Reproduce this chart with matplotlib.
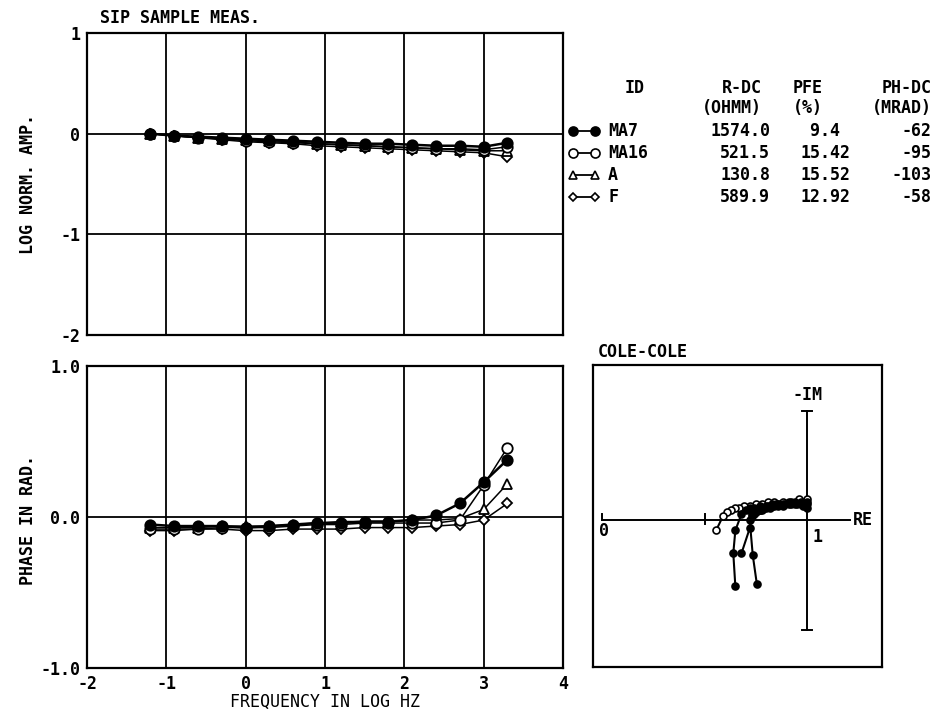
import matplotlib
matplotlib.use("Agg")
import matplotlib.pyplot as plt
from matplotlib.lines import Line2D

# frequency steps (log10 Hz)
logf = [-1.2, -0.9, -0.6, -0.3, 0.0, 0.3, 0.6, 0.9, 1.2, 1.5, 1.8, 2.1, 2.4, 2.7, 3.0, 3.3]

# sample table
ids = ["MA7", "MA16", "A", "F"]
r_dc = ["1574.0", "521.5", "130.8", "589.9"]
pfe = ["9.4", "15.42", "15.52", "12.92"]
ph_dc = ["-62", "-95", "-103", "-58"]

# log normalised amplitude
amp_ma7 = [0.00, -0.02, -0.03, -0.04, -0.05, -0.06, -0.07, -0.08, -0.09, -0.10, -0.10, -0.11, -0.12, -0.12, -0.13, -0.09]
amp_ma16 = [0.00, -0.02, -0.04, -0.05, -0.07, -0.08, -0.09, -0.10, -0.11, -0.12, -0.13, -0.14, -0.15, -0.15, -0.16, -0.13]
amp_a = [0.00, -0.02, -0.04, -0.05, -0.06, -0.07, -0.08, -0.10, -0.11, -0.12, -0.13, -0.14, -0.15, -0.16, -0.17, -0.17]
amp_f = [0.00, -0.02, -0.04, -0.06, -0.08, -0.09, -0.10, -0.12, -0.13, -0.14, -0.15, -0.16, -0.17, -0.18, -0.19, -0.23]

# phase (rad)
ph_ma7 = [-0.05, -0.06, -0.06, -0.06, -0.07, -0.06, -0.05, -0.04, -0.04, -0.03, -0.03, -0.02, 0.01, 0.09, 0.23, 0.38]
ph_ma16 = [-0.08, -0.08, -0.08, -0.07, -0.07, -0.07, -0.06, -0.05, -0.05, -0.04, -0.04, -0.04, -0.04, -0.02, 0.21, 0.46]
ph_a = [-0.07, -0.07, -0.07, -0.06, -0.06, -0.06, -0.05, -0.04, -0.03, -0.03, -0.03, -0.02, -0.02, -0.01, 0.05, 0.22]
ph_f = [-0.09, -0.09, -0.08, -0.08, -0.09, -0.09, -0.08, -0.08, -0.08, -0.07, -0.07, -0.07, -0.06, -0.05, -0.02, 0.09]

# cole-cole (real, -imag), normalised
cc_re_ma7 = [1.00, 0.98, 0.95, 0.92, 0.89, 0.86, 0.83, 0.80, 0.77, 0.74, 0.72, 0.70, 0.68, 0.65, 0.64, 0.65]
cc_im_ma7 = [0.06, 0.07, 0.08, 0.08, 0.08, 0.08, 0.07, 0.07, 0.07, 0.06, 0.06, 0.05, 0.03, -0.05, -0.16, -0.32]
cc_re_ma16 = [1.00, 0.97, 0.94, 0.91, 0.88, 0.85, 0.83, 0.81, 0.79, 0.77, 0.75, 0.74, 0.73, 0.72, 0.735, 0.755]
cc_im_ma16 = [0.09, 0.09, 0.09, 0.09, 0.08, 0.08, 0.08, 0.07, 0.06, 0.05, 0.05, 0.04, 0.03, 0.00, -0.17, -0.31]
cc_re_a = [1.00, 0.97, 0.94, 0.91, 0.88, 0.86, 0.84, 0.82, 0.80, 0.78, 0.77, 0.75, 0.74, 0.73, 0.72, 0.68]
cc_im_a = [0.08, 0.08, 0.08, 0.08, 0.07, 0.07, 0.07, 0.06, 0.06, 0.05, 0.05, 0.04, 0.03, 0.02, -0.04, -0.16]
cc_re_f = [1.00, 0.96, 0.92, 0.88, 0.84, 0.81, 0.78, 0.75, 0.72, 0.69, 0.67, 0.65, 0.63, 0.61, 0.59, 0.556]
cc_im_f = [0.10, 0.10, 0.09, 0.09, 0.09, 0.09, 0.08, 0.08, 0.07, 0.07, 0.06, 0.06, 0.05, 0.04, 0.02, -0.05]

amps = [amp_ma7, amp_ma16, amp_a, amp_f]
phases = [ph_ma7, ph_ma16, ph_a, ph_f]
cc_re = [cc_re_ma7, cc_re_ma16, cc_re_a, cc_re_f]
cc_im = [cc_im_ma7, cc_im_ma16, cc_im_a, cc_im_f]

markers = ["o", "o", "^", "D"]
fills = ["black", "white", "white", "white"]
msizes = [7.5, 7.5, 7, 5.5]
lws = [1.8, 1.1, 1.1, 1.1]

plt.rcParams["font.family"] = "DejaVu Sans Mono"
plt.rcParams["font.weight"] = "bold"
plt.rcParams["font.size"] = 12
plt.rcParams["axes.unicode_minus"] = False

W, H = 942, 717
fig = plt.figure(figsize=(W / 100, H / 100), dpi=100)


def fx(x):
    return x / W


def fy(y):
    return 1 - y / H


def frame(ax):
    for s in ax.spines.values():
        s.set_linewidth(1.6)
    ax.tick_params(length=0, pad=5, labelsize=12)


ax_amp = fig.add_axes([fx(87), fy(335), 476 / W, 302 / H])
ax_ph = fig.add_axes([fx(87), fy(668), 476 / W, 302 / H])
ax_cc = fig.add_axes([fx(593), fy(667), 289 / W, 302 / H])

# amplitude panel
frame(ax_amp)
ax_amp.set_xlim(-2, 4); ax_amp.set_ylim(-2, 1)
ax_amp.set_xticks([]); ax_amp.set_yticks([1, 0, -1, -2])
ax_amp.set_yticklabels(["1", "0", "-1", "-2"])
for v in [-1, 0, 1, 2, 3]:
    ax_amp.axvline(v, color="black", lw=1.3, zorder=1)
for v in [0, -1]:
    ax_amp.axhline(v, color="black", lw=1.3, zorder=1)

# phase panel
frame(ax_ph)
ax_ph.set_xlim(-2, 4); ax_ph.set_ylim(-1, 1)
ax_ph.set_xticks([-2, -1, 0, 1, 2, 3, 4])
ax_ph.set_yticks([1, 0, -1])
ax_ph.set_yticklabels(["1.0", "0.0", "-1.0"])
for v in [-1, 0, 1, 2, 3]:
    ax_ph.axvline(v, color="black", lw=1.3, zorder=1)
ax_ph.axhline(0, color="black", lw=1.3, zorder=1)
ax_ph.set_xlabel("FREQUENCY IN LOG HZ", labelpad=0)

order = [3, 2, 1, 0]
for i in order:
    kw = dict(color="black", marker=markers[i], mfc=fills[i], mec="black",
              ms=msizes[i], mew=1.3, lw=lws[i], zorder=3 + (3 - i))
    ax_amp.plot(logf, amps[i], **kw)
    ax_ph.plot(logf, phases[i], **kw)

# cole-cole panel
frame(ax_cc)
ax_cc.set_xticks([]); ax_cc.set_yticks([])
ax_cc.set_xlim(-0.044, 1.365); ax_cc.set_ylim(-0.71, 0.75)
ax_cc.plot([0, 1.21], [0, 0], color="black", lw=1.4)
ax_cc.plot([1, 1], [-0.53, 0.53], color="black", lw=1.4)
for yv in [-0.53, 0.53]:
    ax_cc.plot([0.975, 1.025], [yv, yv], color="black", lw=1.4)
ax_cc.plot([0, 0], [0, 0.03], color="black", lw=1.4)
ax_cc.plot([0.5, 0.5], [-0.02, 0.03], color="black", lw=1.4)
ax_cc.text(0.01, -0.01, "0", ha="center", va="top")
ax_cc.text(1.05, -0.04, "1", ha="center", va="top")
ax_cc.text(1.225, 0, "RE", ha="left", va="center")
ax_cc.text(1.0, 0.56, "-IM", ha="center", va="bottom")
for i in order:
    ax_cc.plot(cc_re[i], cc_im[i], color="black", marker="o",
               mfc="white" if i == 3 else "black", mec="black",
               ms=5, mew=1.2, lw=1.5)

# titles and axis labels
fig.text(fx(100), fy(18), "SIP SAMPLE MEAS.", ha="left", va="center")
fig.text(fx(598), fy(352), "COLE-COLE", ha="left", va="center")
fig.text(fx(28), fy(184), "LOG NORM. AMP.", rotation=90, ha="center", va="center")
fig.text(fx(28), fy(520), "PHASE IN RAD.", rotation=90, ha="center", va="center")

# sample table
rows_y = [131, 153, 175, 197]
fig.text(fx(625), fy(88), "ID", ha="left", va="center")
fig.text(fx(762), fy(88), "R-DC", ha="right", va="center")
fig.text(fx(823), fy(88), "PFE", ha="right", va="center")
fig.text(fx(932), fy(88), "PH-DC", ha="right", va="center")
fig.text(fx(762), fy(108), "(OHMM)", ha="right", va="center")
fig.text(fx(823), fy(108), "(%)", ha="right", va="center")
fig.text(fx(932), fy(108), "(MRAD)", ha="right", va="center")
for i, y in enumerate(rows_y):
    fig.add_artist(Line2D([fx(573), fx(595)], [fy(y), fy(y)], color="black", lw=1.3,
                          marker=markers[i], mfc=fills[i], mec="black",
                          ms=msizes[i] - 1, mew=1.2, transform=fig.transFigure))
    fig.text(fx(608), fy(y), ids[i], ha="left", va="center")
    fig.text(fx(770), fy(y), r_dc[i], ha="right", va="center")
    fig.text(fx(850), fy(y), pfe[i].ljust(4), ha="right", va="center")
    fig.text(fx(932), fy(y), ph_dc[i], ha="right", va="center")

fig.savefig("out.png", dpi=100)
